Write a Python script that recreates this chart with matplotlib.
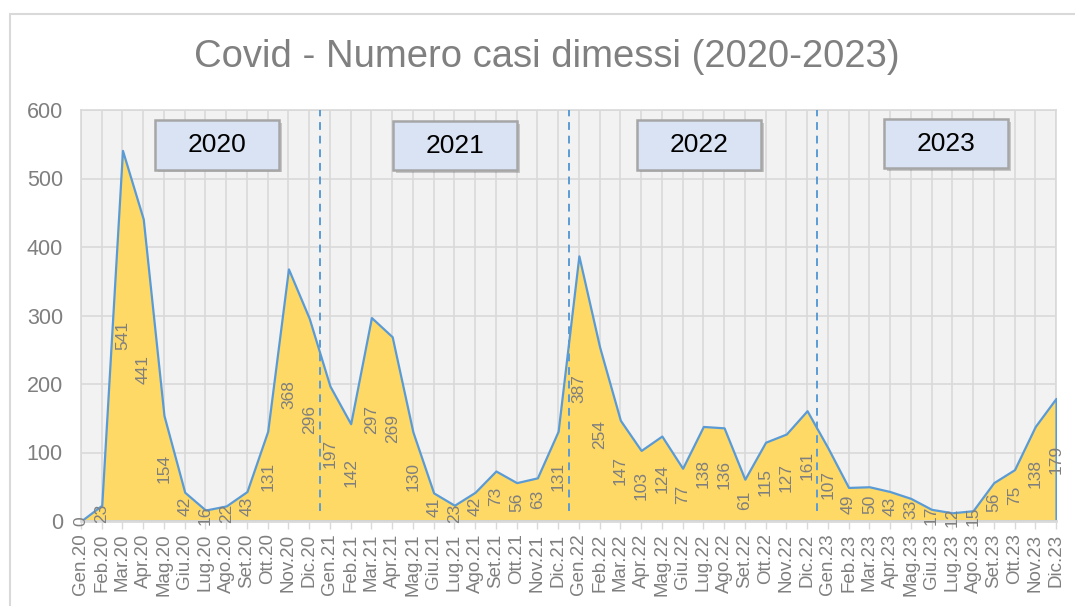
#!/usr/bin/env python3
"""Covid - discharged cases per month, 2020-2023 (area chart)."""
import matplotlib
matplotlib.use("Agg")
import matplotlib.pyplot as plt
from matplotlib.patches import Rectangle

plt.rcParams["font.family"] = ["Liberation Sans", "DejaVu Sans"]

MONTHS = ["Gen", "Feb", "Mar", "Apr", "Mag", "Giu",
          "Lug", "Ago", "Set", "Ott", "Nov", "Dic"]
YEARS = ["20", "21", "22", "23"]
labels = [f"{m}.{y}" for y in YEARS for m in MONTHS]

cases_2020 = [0, 23, 541, 441, 154, 42, 16, 22, 43, 131, 368, 296]
cases_2021 = [197, 142, 297, 269, 130, 41, 23, 42, 73, 56, 63, 131]
cases_2022 = [387, 254, 147, 103, 124, 77, 138, 136, 61, 115, 127, 161]
cases_2023 = [107, 49, 50, 43, 33, 17, 12, 15, 56, 75, 138, 179]
values = cases_2020 + cases_2021 + cases_2022 + cases_2023

year_names = ["2020", "2021", "2022", "2023"]
# box centre (category index, value) for each year label
box_x = [6.56, 18.03, 29.8, 41.7]
box_y = [549, 548, 549, 551]

YELLOW = "#FFD966"
BLUE = "#5B9BD5"
GRID = "#D9D9D9"
TXT = "#7F7F7F"

fig = plt.figure(figsize=(10.75, 6.06), dpi=100)
W, H = 1075, 606
ax = fig.add_axes([81 / W, 1 - 521 / H, (1056 - 81) / W, (521 - 110) / H])
ax.set_facecolor("#F2F2F2")

x = list(range(len(values)))
ax.fill_between(x, values, 0, facecolor=YELLOW, edgecolor=BLUE,
                linewidth=1.6, zorder=2.7)

ax.set_xlim(0, len(values) - 1)
ax.set_ylim(0, 600)
ax.set_yticks(range(0, 601, 100))
ax.set_xticks(x)
ax.set_xticklabels(labels, rotation=90, fontsize=13.5, color=TXT)
ax.tick_params(axis="y", length=0, pad=13, labelsize=15.5, labelcolor=TXT)
ax.tick_params(axis="x", length=6, width=1, color=GRID, pad=3)

ax.grid(True, color=GRID, linewidth=1.2, zorder=1)
ax.set_axisbelow(True)
for s in ["left", "right", "top"]:
    ax.spines[s].set_color(GRID)
    ax.spines[s].set_linewidth(1.2)
ax.spines["bottom"].set_color(GRID)
ax.spines["bottom"].set_linewidth(2)
ax.spines["bottom"].set_zorder(3)

# year separators
for k in range(1, len(YEARS)):
    ax.vlines(12 * k - 0.5, 15, 600, colors=BLUE, linestyles=(0, (4, 3)),
              linewidth=1.4, zorder=3)

# data labels, centred inside the area
for i, v in enumerate(values):
    ax.text(i, v / 2, str(v), rotation=90, ha="center", va="center",
            fontsize=12.5, color=TXT, zorder=4)

# year boxes
bw, bh = 5.98, 72
for name, cx, cy in zip(year_names, box_x, box_y):
    shadow = Rectangle((cx - bw / 2 + 0.15, cy - bh / 2 - 4), bw, bh,
                       facecolor="#000000", alpha=0.18, edgecolor="none",
                       zorder=5)
    ax.add_patch(shadow)
    box = Rectangle((cx - bw / 2, cy - bh / 2), bw, bh, facecolor="#DAE3F3",
                    edgecolor="#A6A6A6", linewidth=1.8, zorder=6)
    ax.add_patch(box)
    ax.text(cx, cy, name, ha="center", va="center", fontsize=19,
            color="black", zorder=7)

fig.text(547 / W, 1 - 57 / H, "Covid - Numero casi dimessi (2020-2023)",
         ha="center", va="center", fontsize=27.5, color="#808080")

# outer chart border
fig.patches.append(Rectangle((10 / W, -0.05), 1.2, 1 - 14 / H + 0.05,
                             transform=fig.transFigure, facecolor="none",
                             edgecolor=GRID, linewidth=1.5))

fig.savefig("out.png", dpi=100)
